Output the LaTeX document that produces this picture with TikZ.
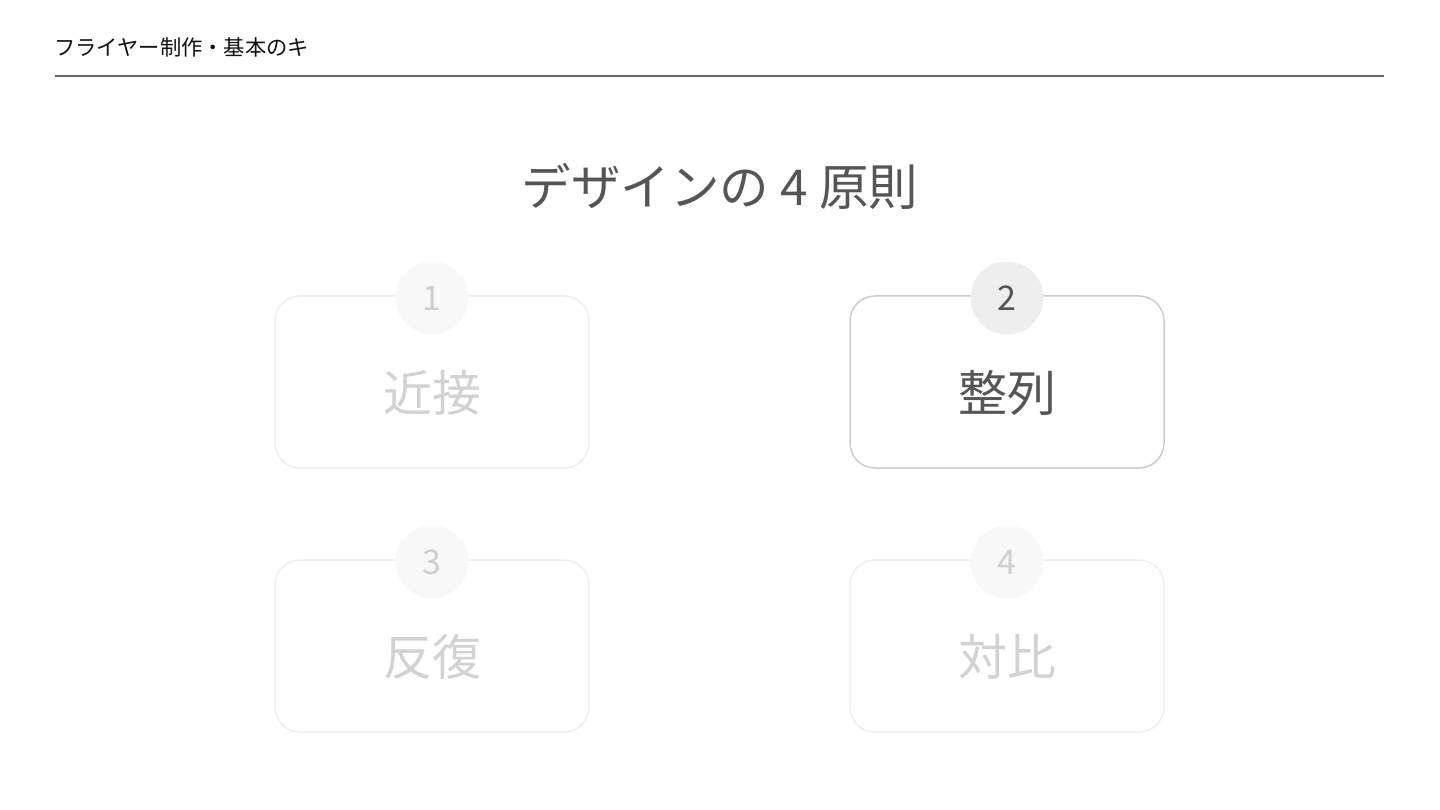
\documentclass[tikz,border=0pt]{standalone}
\usepackage{fontspec}
\setmainfont{Noto Sans CJK JP}
\newfontfamily\jp{Noto Sans CJK JP}
\definecolor{hdr}{HTML}{111111}
\definecolor{rule}{HTML}{666666}
\definecolor{ttl}{HTML}{555555}
\definecolor{actborder}{HTML}{CCCCCC}
\definecolor{actcirc}{HTML}{EEEEEE}
\definecolor{acttext}{HTML}{555555}
\definecolor{inborder}{HTML}{EFEFEF}
\definecolor{incirc}{HTML}{F8F8F8}
\definecolor{intext}{HTML}{D2D2D2}
\definecolor{innum}{HTML}{CFCFCF}
\tikzset{
  card/.style={draw=#1, line width=1.5pt, fill=white, rounded corners=25pt, minimum width=314pt, minimum height=172pt, inner sep=0pt},
  badge/.style={circle, fill=#1, minimum size=73pt, inner sep=0pt},
  numtext/.style={text=#1, font=\jp\fontsize{34}{34}\selectfont},
  wordtext/.style={text=#1, font=\jp\fontsize{49}{49}\selectfont}
}
\begin{document}
\begin{tikzpicture}[x=1pt,y=-1pt]
\useasboundingbox (0,0) rectangle (1440,810);
\fill[white] (0,0) rectangle (1440,810);
% header
\node[anchor=west, text=hdr, font=\jp\fontsize{21.3}{21.3}\selectfont, inner sep=0pt] (header) at (54,47) {フライヤー制作・基本のキ};
\coordinate (ruleL) at (55,76);
\coordinate (ruleR) at (1384,76);
\draw[rule, line width=1.6pt] (ruleL) -- (ruleR);
% title
\node[text=ttl, font=\jp\fontsize{49.5}{49.5}\selectfont, inner sep=0pt] (title) at (720,186) {デザインの 4 原則};
% cards
\node[card=inborder] (c1) at (432,382) {};
\node[card=actborder] (c2) at (1007,382) {};
\node[card=inborder] (c3) at (432,646) {};
\node[card=inborder] (c4) at (1007,646) {};
% badges
\node[badge=incirc] (b1) at (432,298) {};
\node[badge=actcirc] (b2) at (1007,298) {};
\node[badge=incirc] (b3) at (432,562) {};
\node[badge=incirc] (b4) at (1007,562) {};
\node[numtext=innum] (n1) at (b1) {1};
\node[numtext=acttext] (n2) at (b2) {2};
\node[numtext=innum] (n3) at (b3) {3};
\node[numtext=innum] (n4) at (b4) {4};
% words
\node[wordtext=intext] (w1) at (432,393) {近接};
\node[wordtext=acttext] (w2) at (1007,393) {整列};
\node[wordtext=intext] (w3) at (432,657) {反復};
\node[wordtext=intext] (w4) at (1007,657) {対比};
\end{tikzpicture}
\end{document}
